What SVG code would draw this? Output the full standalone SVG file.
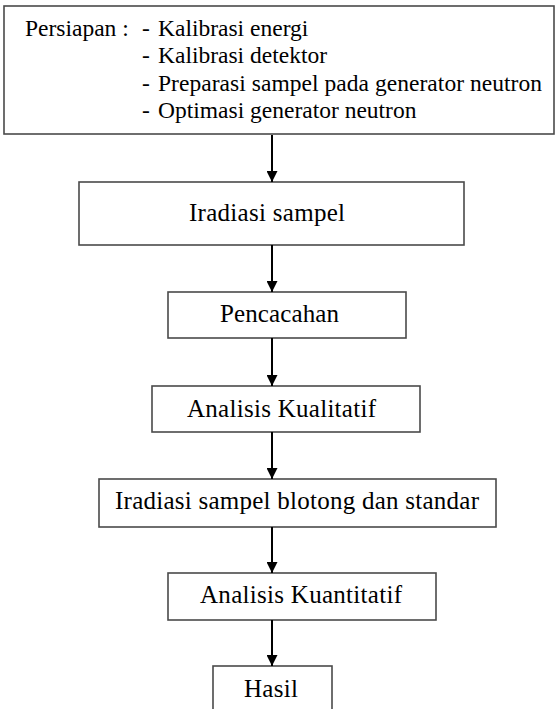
<svg xmlns="http://www.w3.org/2000/svg" width="557" height="709" viewBox="0 0 557 709">
<style>
  .box { fill: #ffffff; stroke: #4a4a4a; stroke-width: 1.6; }
  .lbl { font-family: "Liberation Serif", "DejaVu Serif", "Times New Roman", Times, serif; font-size: 25px; fill: #000000; }
  .top { font-family: "Liberation Serif", "DejaVu Serif", "Times New Roman", Times, serif; font-size: 23.5px; fill: #000000; }
  .conn { stroke: #000000; stroke-width: 2; fill: none; marker-end: url(#arrow); }
</style>
<defs>
  <marker id="arrow" viewBox="0 0 12 12" refX="12" refY="6" markerWidth="12" markerHeight="11" markerUnits="userSpaceOnUse" orient="auto">
    <path d="M0,0 L12,6 L0,12 z" fill="#000000"/>
  </marker>
</defs>
<rect width="557" height="709" fill="#ffffff"/>

<g id="node-persiapan">
  <rect class="box" x="4" y="6" width="550" height="128"/>
  <text class="top" font-family="Liberation Serif, serif" x="25" y="36">Persiapan :</text>
  <text class="top" x="142" y="36">-</text>
  <text class="top" x="158" y="36">Kalibrasi energi</text>
  <text class="top" x="142" y="63">-</text>
  <text class="top" x="158" y="63">Kalibrasi detektor</text>
  <text class="top" x="142" y="91">-</text>
  <text class="top" x="158" y="91" textLength="384">Preparasi sampel pada generator neutron</text>
  <text class="top" x="142" y="118">-</text>
  <text class="top" x="158" y="118">Optimasi generator neutron</text>
</g>

<g id="node-iradiasi">
  <rect class="box" x="79" y="182" width="385" height="63"/>
  <text class="lbl" x="189" y="221" textLength="156">Iradiasi sampel</text>
</g>

<g id="node-pencacahan">
  <rect class="box" x="168" y="292" width="238" height="46"/>
  <text class="lbl" x="220" y="322" textLength="119">Pencacahan</text>
</g>

<g id="node-kualitatif">
  <rect class="box" x="152" y="386" width="268" height="46"/>
  <text class="lbl" x="187" y="417" textLength="189">Analisis Kualitatif</text>
</g>

<g id="node-blotong">
  <rect class="box" x="99" y="479" width="397" height="48"/>
  <text class="lbl" x="115" y="509" textLength="364">Iradiasi sampel blotong dan standar</text>
</g>

<g id="node-kuantitatif">
  <rect class="box" x="168" y="573" width="268" height="47"/>
  <text class="lbl" x="200" y="603" textLength="202">Analisis Kuantitatif</text>
</g>

<g id="node-hasil">
  <rect class="box" x="213" y="666" width="119" height="60"/>
  <text class="lbl" x="244" y="697" textLength="54">Hasil</text>
</g>

<g id="connectors">
  <line class="conn" x1="272" y1="135" x2="272" y2="182"/>
  <line class="conn" x1="272" y1="245" x2="272" y2="292"/>
  <line class="conn" x1="272" y1="338" x2="272" y2="386"/>
  <line class="conn" x1="272" y1="432" x2="272" y2="479"/>
  <line class="conn" x1="272" y1="527" x2="272" y2="573"/>
  <line class="conn" x1="272" y1="620" x2="272" y2="666"/>
</g>
</svg>
